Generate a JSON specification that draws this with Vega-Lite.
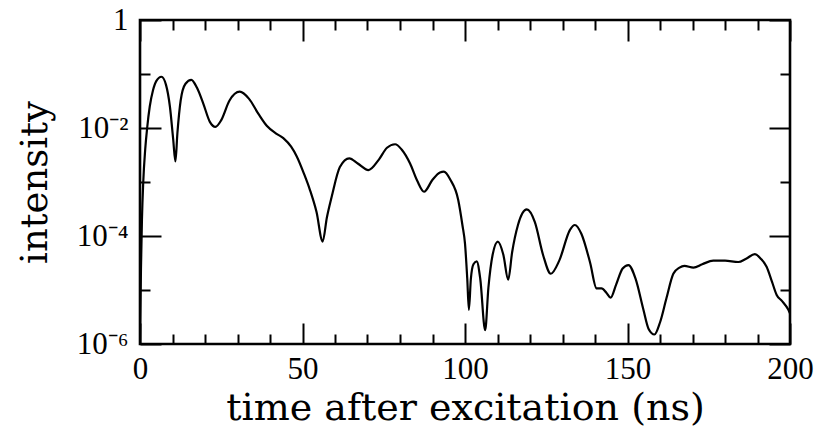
{
  "$schema": "https://vega.github.io/schema/vega-lite/v6.json",
  "width": 650,
  "height": 324,
  "autosize": {"type": "none"},
  "padding": {"left": 140, "top": 20, "right": 42, "bottom": 97},
  "background": "white",
  "config": {
    "view": {"stroke": "black", "strokeWidth": 2.6},
    "axis": {"domain": false, "grid": false, "tickColor": "black", "tickWidth": 2, "labelColor": "black", "titleColor": "black", "labelFont": "Liberation Serif", "titleFont": "DejaVu Serif", "labelFontWeight": "normal", "titleFontWeight": "normal"}
  },
  "data": {"values": [
    {"t": 0, "intensity": 1e-6},
    {"t": 0.3, "intensity": 2.5e-5},
    {"t": 0.6, "intensity": 2.0e-4},
    {"t": 1.0, "intensity": 1e-3},
    {"t": 1.6, "intensity": 4e-3},
    {"t": 2.2, "intensity": 1e-2},
    {"t": 3.0, "intensity": 2.5e-2},
    {"t": 4.0, "intensity": 5.0e-2},
    {"t": 5.0, "intensity": 7.4e-2},
    {"t": 6.6, "intensity": 8.9e-2},
    {"t": 8.0, "intensity": 6.3e-2},
    {"t": 9.2, "intensity": 2.5e-2},
    {"t": 10.2, "intensity": 6.3e-3},
    {"t": 10.9, "intensity": 2.4e-3},
    {"t": 11.5, "intensity": 7.9e-3},
    {"t": 12.5, "intensity": 3.2e-2},
    {"t": 14.0, "intensity": 6.6e-2},
    {"t": 15.8, "intensity": 7.8e-2},
    {"t": 17.5, "intensity": 5.6e-2},
    {"t": 19.5, "intensity": 2.8e-2},
    {"t": 21.5, "intensity": 1.3e-2},
    {"t": 23.2, "intensity": 1.05e-2},
    {"t": 25.0, "intensity": 1.4e-2},
    {"t": 27.5, "intensity": 3.2e-2},
    {"t": 30.7, "intensity": 4.7e-2},
    {"t": 33.5, "intensity": 3.5e-2},
    {"t": 36.5, "intensity": 1.8e-2},
    {"t": 39.0, "intensity": 1.1e-2},
    {"t": 41.9, "intensity": 7.9e-3},
    {"t": 44.1, "intensity": 6.5e-3},
    {"t": 46.5, "intensity": 4.5e-3},
    {"t": 48.2, "intensity": 3.0e-3},
    {"t": 50.5, "intensity": 1.4e-3},
    {"t": 52.3, "intensity": 7.1e-4},
    {"t": 54.3, "intensity": 2.8e-4},
    {"t": 56.2, "intensity": 7.9e-5},
    {"t": 57.5, "intensity": 2.2e-4},
    {"t": 59.0, "intensity": 5.4e-4},
    {"t": 61.5, "intensity": 1.9e-3},
    {"t": 64.4, "intensity": 2.75e-3},
    {"t": 67.0, "intensity": 2.2e-3},
    {"t": 70.3, "intensity": 1.66e-3},
    {"t": 73.5, "intensity": 2.6e-3},
    {"t": 76.0, "intensity": 4.3e-3},
    {"t": 78.5, "intensity": 5.0e-3},
    {"t": 80.5, "intensity": 4.0e-3},
    {"t": 83.1, "intensity": 2.2e-3},
    {"t": 85.3, "intensity": 1.05e-3},
    {"t": 87.4, "intensity": 6.6e-4},
    {"t": 90.0, "intensity": 1.1e-3},
    {"t": 92.3, "intensity": 1.5e-3},
    {"t": 93.5, "intensity": 1.55e-3},
    {"t": 95.5, "intensity": 1.1e-3},
    {"t": 97.9, "intensity": 4.7e-4},
    {"t": 99.2, "intensity": 1.6e-4},
    {"t": 100.0, "intensity": 7.2e-5},
    {"t": 100.7, "intensity": 1.6e-5},
    {"t": 101.2, "intensity": 4.3e-6},
    {"t": 101.8, "intensity": 1.6e-5},
    {"t": 102.6, "intensity": 3.0e-5},
    {"t": 103.6, "intensity": 3.4e-5},
    {"t": 104.7, "intensity": 1.6e-5},
    {"t": 106.2, "intensity": 1.8e-6},
    {"t": 107.2, "intensity": 1.1e-5},
    {"t": 108.5, "intensity": 4.5e-5},
    {"t": 110.1, "intensity": 7.9e-5},
    {"t": 111.8, "intensity": 4.5e-5},
    {"t": 113.3, "intensity": 1.55e-5},
    {"t": 114.5, "intensity": 5.0e-5},
    {"t": 116.3, "intensity": 1.6e-4},
    {"t": 119.0, "intensity": 3.1e-4},
    {"t": 121.5, "intensity": 1.8e-4},
    {"t": 124.0, "intensity": 4.5e-5},
    {"t": 126.4, "intensity": 2.0e-5},
    {"t": 129.0, "intensity": 3.5e-5},
    {"t": 132.3, "intensity": 1.3e-4},
    {"t": 133.8, "intensity": 1.6e-4},
    {"t": 135.8, "intensity": 1.1e-4},
    {"t": 138.5, "intensity": 3.2e-5},
    {"t": 140.5, "intensity": 1.07e-5},
    {"t": 142.0, "intensity": 1.07e-5},
    {"t": 143.5, "intensity": 8.9e-6},
    {"t": 144.8, "intensity": 7.2e-6},
    {"t": 146.5, "intensity": 1.26e-5},
    {"t": 148.5, "intensity": 2.5e-5},
    {"t": 150.3, "intensity": 2.9e-5},
    {"t": 152.5, "intensity": 1.6e-5},
    {"t": 154.9, "intensity": 4.3e-6},
    {"t": 156.5, "intensity": 1.9e-6},
    {"t": 158.3, "intensity": 1.5e-6},
    {"t": 160.0, "intensity": 2.5e-6},
    {"t": 162.0, "intensity": 7.1e-6},
    {"t": 164.1, "intensity": 2.0e-5},
    {"t": 166.0, "intensity": 2.6e-5},
    {"t": 167.5, "intensity": 2.8e-5},
    {"t": 170.3, "intensity": 2.6e-5},
    {"t": 173.0, "intensity": 3.0e-5},
    {"t": 176.4, "intensity": 3.5e-5},
    {"t": 180.0, "intensity": 3.5e-5},
    {"t": 184.1, "intensity": 3.3e-5},
    {"t": 186.5, "intensity": 3.8e-5},
    {"t": 189.2, "intensity": 4.6e-5},
    {"t": 191.0, "intensity": 3.8e-5},
    {"t": 192.8, "intensity": 2.7e-5},
    {"t": 194.5, "intensity": 1.4e-5},
    {"t": 195.9, "intensity": 8.1e-6},
    {"t": 197.5, "intensity": 6.3e-6},
    {"t": 199.5, "intensity": 4.3e-6},
    {"t": 200, "intensity": 3.7e-6}
  ]},
  "resolve": {"axis": {"x": "independent", "y": "independent"}},
  "layer": [
    {
      "mark": {"type": "line", "color": "black", "strokeWidth": 2.2, "interpolate": "monotone", "clip": true},
      "encoding": {
        "x": {"field": "t", "type": "quantitative", "scale": {"domain": [0, 200], "nice": false, "zero": false},
          "axis": {"orient": "bottom", "values": [0, 50, 100, 150, 200], "tickSize": -21, "labelPadding": 31, "labelFontSize": 31, "labelFlush": false, "title": "time after excitation (ns)", "titleFontSize": 38, "titlePadding": 5}},
        "y": {"field": "intensity", "type": "quantitative", "scale": {"type": "log", "domain": [1e-6, 1], "nice": false},
          "axis": {"orient": "left", "values": [1, 0.01, 0.0001, 0.000001], "tickSize": -21, "labelPadding": 33, "labelFontSize": 31, "labelFlush": false,
            "labelExpr": "datum.value > 0.5 ? '1' : datum.value > 0.001 ? '10⁻²' : datum.value > 0.00001 ? '10⁻⁴' : '10⁻⁶'",
            "title": "intensity", "titleFontSize": 37, "titlePadding": 22}}
      }
    },
    {
      "mark": {"type": "line", "opacity": 0},
      "encoding": {
        "x": {"field": "t", "type": "quantitative", "axis": {"orient": "bottom", "values": [10, 20, 30, 40, 60, 70, 80, 90, 110, 120, 130, 140, 160, 170, 180, 190], "tickSize": -10, "labels": false, "title": null}},
        "y": {"field": "intensity", "type": "quantitative", "axis": {"orient": "left", "values": [0.1, 0.001, 0.00001], "tickSize": -10, "labels": false, "title": null}}
      }
    },
    {
      "mark": {"type": "line", "opacity": 0},
      "encoding": {
        "x": {"field": "t", "type": "quantitative", "axis": {"orient": "top", "values": [0, 50, 100, 150, 200], "tickSize": -21, "labels": false, "title": null}},
        "y": {"field": "intensity", "type": "quantitative", "axis": {"orient": "right", "values": [1, 0.01, 0.0001, 0.000001], "tickSize": -21, "labels": false, "title": null}}
      }
    },
    {
      "mark": {"type": "line", "opacity": 0},
      "encoding": {
        "x": {"field": "t", "type": "quantitative", "axis": {"orient": "top", "values": [10, 20, 30, 40, 60, 70, 80, 90, 110, 120, 130, 140, 160, 170, 180, 190], "tickSize": -10, "labels": false, "title": null}},
        "y": {"field": "intensity", "type": "quantitative", "axis": {"orient": "right", "values": [0.1, 0.001, 0.00001], "tickSize": -10, "labels": false, "title": null}}
      }
    }
  ]
}
